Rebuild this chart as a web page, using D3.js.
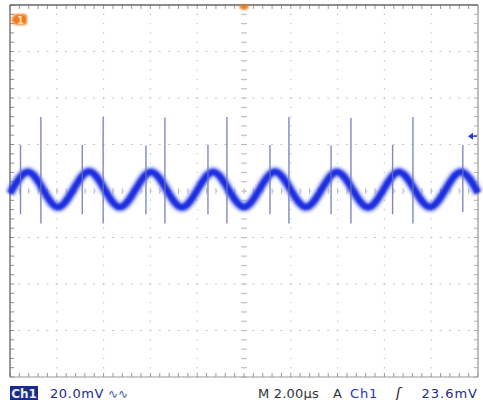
<!DOCTYPE html>
<html><head><meta charset="utf-8">
<script src="https://cdn.jsdelivr.net/npm/d3@7"></script>
<style>html,body{margin:0;padding:0;background:#fff;}svg{display:block;}</style>
</head><body>
<script>
// Ch1 ripple: turning points of the trace (time in µs from trigger, level in mV)
const rippleTimes  = [-10, -9.23, -7.95, -6.62, -5.30, -3.97, -2.65, -1.32, 0, 1.32, 2.65, 3.97, 5.30, 6.62, 7.95, 9.27, 10];
const rippleLevels = [-1.0, 8.2, -6.9, 8.4, -6.9, 8.2, -7.0, 8.2, -6.9, 8.3, -6.9, 8.2, -7.0, 8.2, -6.9, 8.2, -0.8];

// switching spikes (time in µs, low / high excursion in mV)
const shortSpikeTimes = [-9.55, -6.91, -4.19, -1.54, 1.11, 3.72, 6.35, 9.35];
const shortSpikeLow   = [-10, -10, -10, -10, -10, -10, -10, -9];
const shortSpikeHigh  = [19.8, 19.8, 19.6, 19.8, 19.8, 19.6, 19.8, 19.8];
const tallSpikeTimes  = [-8.68, -6.02, -3.38, -0.73, 1.92, 4.57, 7.22];
const tallSpikeLow    = [-14, -14, -14, -14, -14, -14, -14];
const tallSpikeHigh   = [31.8, 31.8, 31.6, 31.8, 31.8, 31.4, 31.8];

// graticule: 10 x 2.00 µs, 8 x 20.0 mV
const timeDivisions  = [-10, -8, -6, -4, -2, 0, 2, 4, 6, 8, 10];
const levelDivisions = [-80, -60, -40, -20, 0, 20, 40, 60, 80];
const minorPerDiv = 5;
const triggerLevel = 23.6;

// readout line
const readoutLeft  = ["Ch1", "20.0mV", "∿∿"];
const readoutRight = ["M 2.00µs", "A", "Ch1", "ʃ", "23.6mV"];

const W = 483, H = 400;
const svg = d3.select("body").append("svg").attr("width", W).attr("height", H);

const x = d3.scaleLinear().domain([-10, 10]).range([10, 478]);
const y = d3.scaleLinear().domain([-80, 80]).range([377, 5]);

const defs = svg.append("defs");
defs.append("filter").attr("id", "soft").attr("x", "-5%").attr("y", "-50%").attr("width", "110%").attr("height", "200%")
  .append("feGaussianBlur").attr("stdDeviation", 0.9);
defs.append("filter").attr("id", "haze").attr("x", "-5%").attr("y", "-50%").attr("width", "110%").attr("height", "200%")
  .append("feGaussianBlur").attr("stdDeviation", 1.6);

const grid = svg.append("g");
const divX = (x(2) - x(0)), divY = (y(0) - y(20));

// dotted graticule lines
timeDivisions.slice(1, -1).forEach(t => {
  if (t === 0) return;
  grid.append("line").attr("x1", x(t)).attr("x2", x(t)).attr("y1", y(80)).attr("y2", y(-80))
    .attr("stroke", "#c6c6c6").attr("stroke-width", 1.2)
    .attr("stroke-dasharray", `1.4,${divY / minorPerDiv - 1.4}`).attr("stroke-dashoffset", 0.7);
});
levelDivisions.slice(1, -1).forEach(v => {
  if (v === 0) return;
  grid.append("line").attr("y1", y(v)).attr("y2", y(v)).attr("x1", x(-10)).attr("x2", x(10))
    .attr("stroke", "#c6c6c6").attr("stroke-width", 1.2)
    .attr("stroke-dasharray", `2,${divX / minorPerDiv - 2}`).attr("stroke-dashoffset", 1);
});

// centre cross with minor ticks
grid.append("line").attr("x1", x(0)).attr("x2", x(0)).attr("y1", y(80)).attr("y2", y(-80))
  .attr("stroke", "#c8c8c8").attr("stroke-dasharray", `1.4,${divY / minorPerDiv - 1.4}`);
grid.append("line").attr("y1", y(0)).attr("y2", y(0)).attr("x1", x(-10)).attr("x2", x(10))
  .attr("stroke", "#c8c8c8").attr("stroke-dasharray", `2,${divX / minorPerDiv - 2}`);
const minorT = d3.range(-10, 10.001, 2 / minorPerDiv);
const minorV = d3.range(-80, 80.001, 20 / minorPerDiv);
grid.selectAll(".ct").data(minorT).join("line")
  .attr("x1", d => x(d)).attr("x2", d => x(d)).attr("y1", y(0) - 3).attr("y2", y(0) + 3)
  .attr("stroke", "#bcbcbc");
grid.selectAll(".cv").data(minorV).join("line")
  .attr("y1", d => y(d)).attr("y2", d => y(d)).attr("x1", x(0) - 3).attr("x2", x(0) + 3)
  .attr("stroke", "#bcbcbc");

// frame with edge ticks
grid.selectAll(".tt").data(minorT).join("line")
  .attr("x1", d => x(d)).attr("x2", d => x(d)).attr("y1", y(80)).attr("y2", y(80) + 4)
  .attr("stroke", "#9a9a9a");
grid.selectAll(".bt").data(minorT).join("line")
  .attr("x1", d => x(d)).attr("x2", d => x(d)).attr("y1", y(-80)).attr("y2", y(-80) - 4)
  .attr("stroke", "#9a9a9a");
grid.selectAll(".lt").data(minorV).join("line")
  .attr("y1", d => y(d)).attr("y2", d => y(d)).attr("x1", x(-10)).attr("x2", x(-10) + 4)
  .attr("stroke", "#8a8a8a");
grid.selectAll(".rt").data(minorV).join("line")
  .attr("y1", d => y(d)).attr("y2", d => y(d)).attr("x1", x(10)).attr("x2", x(10) - 4)
  .attr("stroke", "#b0b0b0");
grid.append("line").attr("x1", x(-10)).attr("x2", x(10)).attr("y1", y(80)).attr("y2", y(80)).attr("stroke", "#666").attr("stroke-width", 1.5);
grid.append("line").attr("x1", x(-10)).attr("x2", x(-10)).attr("y1", y(80)).attr("y2", y(-80)).attr("stroke", "#777").attr("stroke-width", 1.5);
grid.append("line").attr("x1", x(10)).attr("x2", x(10)).attr("y1", y(80)).attr("y2", y(-80)).attr("stroke", "#aaa").attr("stroke-width", 1.5);
grid.append("line").attr("x1", x(-10)).attr("x2", x(10)).attr("y1", y(-80)).attr("y2", y(-80)).attr("stroke", "#999");

// ripple trace
const ripple = rippleTimes.map((t, i) => [t, rippleLevels[i]]);
const line = d3.line().x(d => x(d[0])).y(d => y(d[1])).curve(d3.curveMonotoneX);
svg.append("path").attr("d", line(ripple)).attr("fill", "none")
  .attr("stroke", "#5a66ea").attr("stroke-width", 11).attr("opacity", 0.45).attr("filter", "url(#haze)");
svg.append("path").attr("d", line(ripple)).attr("fill", "none")
  .attr("stroke", "#1a2ee0").attr("stroke-width", 6.5).attr("filter", "url(#soft)");

// spikes
const spikes = svg.append("g").attr("stroke", "#6a74b8").attr("stroke-width", 1.4).attr("opacity", 0.85);
spikes.selectAll(".s").data(shortSpikeTimes).join("line")
  .attr("x1", d => x(d)).attr("x2", d => x(d))
  .attr("y1", (d, i) => y(shortSpikeHigh[i])).attr("y2", (d, i) => y(shortSpikeLow[i]));
spikes.selectAll(".t").data(tallSpikeTimes).join("line")
  .attr("x1", d => x(d)).attr("x2", d => x(d))
  .attr("y1", (d, i) => y(tallSpikeHigh[i])).attr("y2", (d, i) => y(tallSpikeLow[i]));

// channel 1 marker (top left)
const m = svg.append("g").attr("transform", "translate(11,14)");
m.append("path").attr("d", "M0,5.5 L4,0 H13 Q16,0 16,3 V8 Q16,11 13,11 H4 Z").attr("fill", "#f07d1e").attr("filter", "url(#soft)");
m.append("text").attr("x", 9.5).attr("y", 9.5).attr("text-anchor", "middle").attr("font-family", "DejaVu Sans")
  .attr("font-size", 10).attr("font-weight", "bold").attr("fill", "#ffd9b0").text("1");

// trigger position marker (top centre)
svg.append("path").attr("d", `M${x(0) - 5},${y(80)} A5,5 0 0 0 ${x(0) + 5},${y(80)} Z`)
  .attr("fill", "#f07d1e").attr("filter", "url(#soft)");

// trigger level marker (right)
const tl = svg.append("g").attr("fill", "#2a3ad0").attr("stroke", "#2a3ad0");
tl.append("path").attr("d", `M${x(10) - 10},${y(triggerLevel)} l5,-3.5 v7 Z`).attr("stroke", "none");
tl.append("line").attr("x1", x(10) - 6).attr("x2", x(10) - 1).attr("y1", y(triggerLevel)).attr("y2", y(triggerLevel)).attr("stroke-width", 1.5);

// readout
const ro = svg.append("g").attr("font-family", "DejaVu Sans").attr("font-size", 13);
ro.append("rect").attr("x", 10).attr("y", 386).attr("width", 28).attr("height", 14).attr("fill", "#1a2a8a");
ro.append("text").attr("x", 24).attr("y", 398).attr("text-anchor", "middle").attr("fill", "#e8ecff").attr("font-weight", "bold").attr("font-size", 12).text(readoutLeft[0]);
ro.append("text").attr("x", 50).attr("y", 398).attr("fill", "#1c2a8a").attr("letter-spacing", 0.6).text(readoutLeft[1]);
ro.append("text").attr("x", 108).attr("y", 398).attr("fill", "#4a58a8").attr("font-size", 12).text(readoutLeft[2]);
ro.append("text").attr("x", 258).attr("y", 398).attr("fill", "#333").attr("letter-spacing", 0.2).text(readoutRight[0]);
ro.append("text").attr("x", 333).attr("y", 398).attr("fill", "#333").text(readoutRight[1]);
ro.append("text").attr("x", 350).attr("y", 398).attr("fill", "#2233bb").attr("letter-spacing", 0.8).text(readoutRight[2]);
ro.append("text").attr("x", 396).attr("y", 398).attr("fill", "#222").attr("font-style", "italic").attr("font-size", 14).text(readoutRight[3]);
ro.append("text").attr("x", 478).attr("y", 398).attr("text-anchor", "end").attr("fill", "#1c2a8a").attr("letter-spacing", 1).text(readoutRight[4]);
</script>
</body></html>
